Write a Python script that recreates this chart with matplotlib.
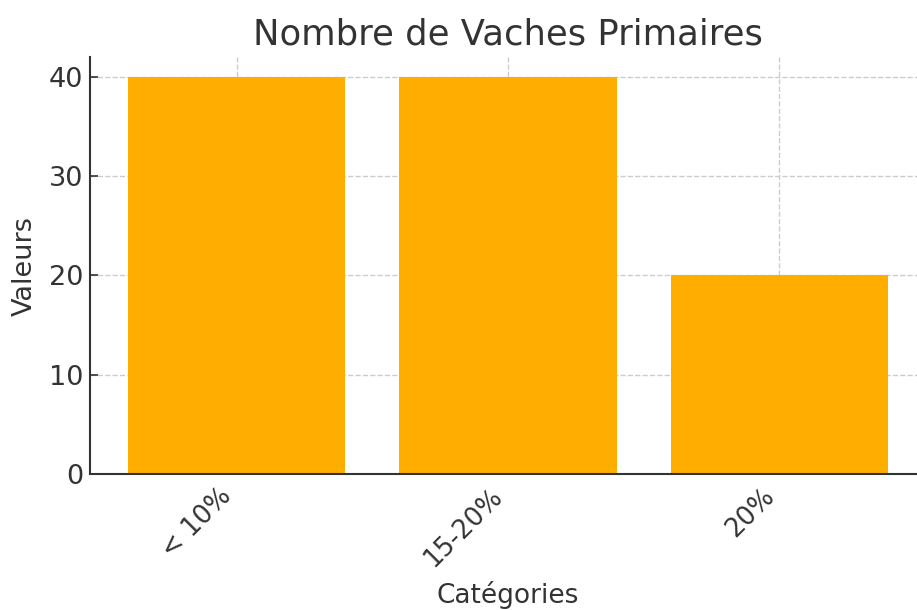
import matplotlib.pyplot as plt

# data
categories = ["< 10%", "15-20%", "20%"]
values = [40, 40, 20]

TEXT = "#333333"
BAR = "#FFAE00"

plt.rcParams['font.family'] = ['DejaVu Sans']

fig = plt.figure(figsize=(9.17, 6.10), dpi=100)
ax = fig.add_axes([90 / 917, 1 - 474 / 610, 836 / 917, (474 - 57) / 610])

ax.bar(categories, values, width=0.8, color=BAR, zorder=2)
ax.set_ylim(0, 42)

ax.set_title("Nombre de Vaches Primaires", fontsize=25.5, color=TEXT, pad=9)
ax.set_xlabel("Catégories", fontsize=19, color=TEXT, labelpad=6)
ax.set_ylabel("Valeurs", fontsize=19.5, color=TEXT, labelpad=8)

ax.grid(True, linestyle="--", color="#cccccc", linewidth=1, zorder=0)
ax.tick_params(axis="both", direction="in", colors=TEXT, length=6, width=1.2)
ax.tick_params(axis="y", pad=5, labelsize=19.5)
ax.tick_params(axis="x", pad=7, labelsize=18.5)
plt.setp(ax.get_xticklabels(), rotation=45, ha="right")

for s in ["top", "right"]:
    ax.spines[s].set_visible(False)
for s in ["left", "bottom"]:
    ax.spines[s].set_color(TEXT)
    ax.spines[s].set_linewidth(1.5)

fig.savefig("out.png", dpi=100)
